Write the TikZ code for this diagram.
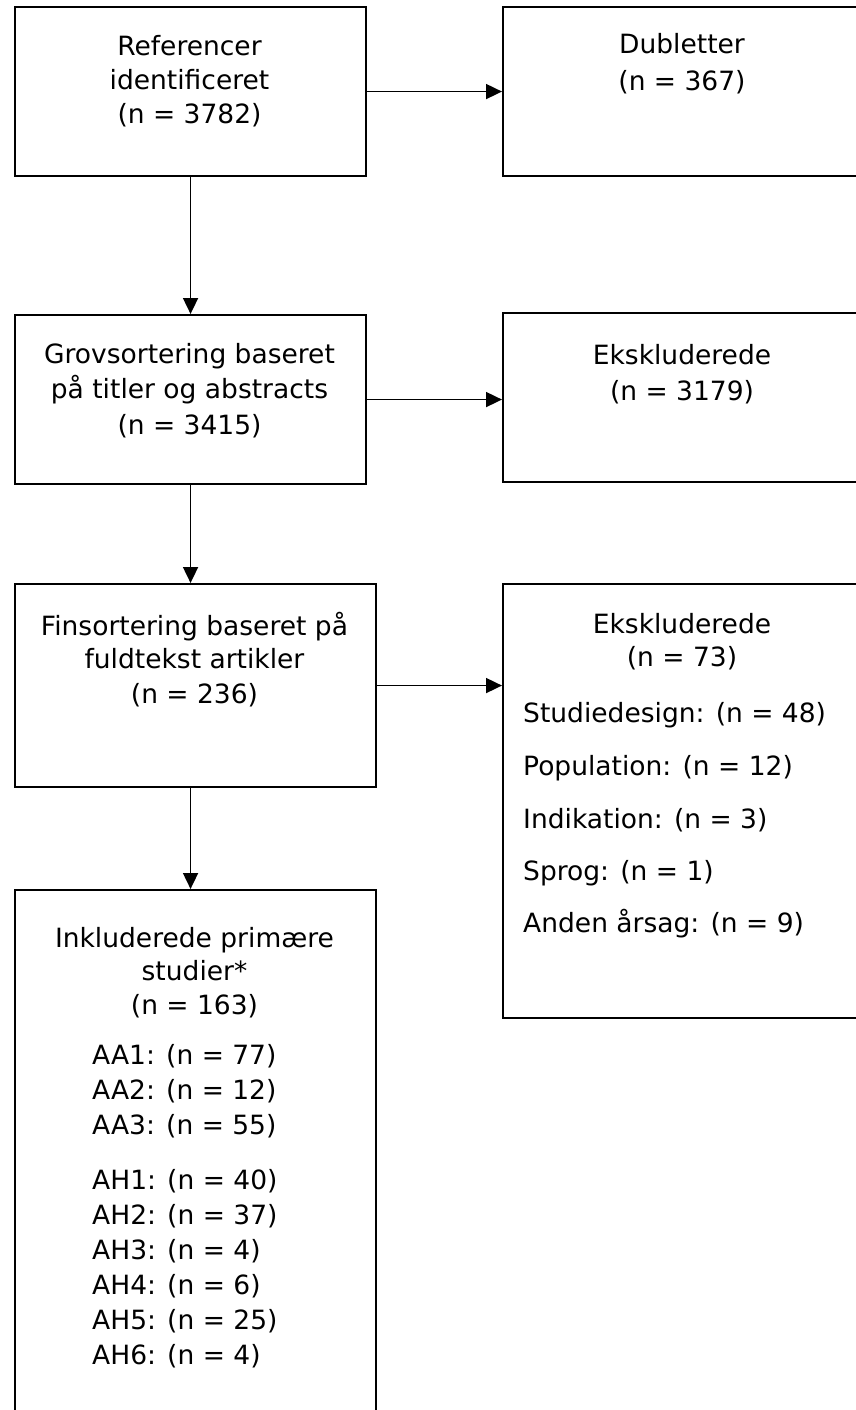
\documentclass[tikz,border=0pt]{standalone}
\usepackage{fontspec}
\setmainfont{DejaVu Sans}
\usetikzlibrary{arrows.meta}
\begin{document}
\begin{tikzpicture}[x=1pt,y=-1pt,
  box/.style={draw,line width=2.1pt,rectangle,inner sep=0pt,anchor=north west},
  lbl/.style={anchor=base,inner sep=0pt,font=\fontsize{26.5}{34}\selectfont},
  lft/.style={anchor=base west,inner sep=0pt,font=\fontsize{26.5}{34}\selectfont},
  arr/.style={line width=1.8pt,-{Triangle[length=16pt,width=15pt]}}]
\useasboundingbox (0,0) rectangle (856,1410);
\clip (0,0) rectangle (856,1410);
% boxes
\node[box,minimum width=351pt,minimum height=169pt] (b1) at (14,6) {};
\node[box,minimum width=360pt,minimum height=169pt] (b2) at (502,6) {};
\node[box,minimum width=351pt,minimum height=169pt] (b3) at (14,314) {};
\node[box,minimum width=360pt,minimum height=169pt] (b4) at (502,312) {};
\node[box,minimum width=361pt,minimum height=203pt] (b5) at (14,583) {};
\node[box,minimum width=360pt,minimum height=434pt] (b6) at (502,583) {};
\node[box,minimum width=361pt,minimum height=530pt] (b7) at (14,889) {};
% texts
\node[lbl] (t1a) at (189.5,56) {Referencer};
\node[lbl] (t1b) at (189.5,89.5) {identificeret};
\node[lbl] (t1c) at (189.5,124) {(n = 3782)};
\node[lbl] (t2a) at (682,54) {Dubletter};
\node[lbl] (t2b) at (682,91) {(n = 367)};
\node[lbl] (t3a) at (189.5,363) {Grovsortering baseret};
\node[lbl] (t3b) at (189.5,398) {på titler og abstracts};
\node[lbl] (t3c) at (189.5,434) {(n = 3415)};
\node[lbl] (t4a) at (682,364) {Ekskluderede};
\node[lbl] (t4b) at (682,400) {(n = 3179)};
\node[lbl] (t5a) at (194.5,635) {Finsortering baseret på};
\node[lbl] (t5b) at (194.5,668) {fuldtekst artikler};
\node[lbl] (t5c) at (194.5,703) {(n = 236)};
\node[lbl] (t6a) at (682,633) {Ekskluderede};
\node[lbl] (t6b) at (682,666) {(n = 73)};
\node[lft] (t6c) at (523,722) {Studiedesign: (n = 48)};
\node[lft] (t6d) at (523,775) {Population: (n = 12)};
\node[lft] (t6e) at (523,828) {Indikation: (n = 3)};
\node[lft] (t6f) at (523,880) {Sprog: (n = 1)};
\node[lft] (t6g) at (523,932) {Anden årsag: (n = 9)};
\node[lbl] (t7a) at (194.5,947) {Inkluderede primære};
\node[lbl] (t7b) at (194.5,980) {studier*};
\node[lbl] (t7c) at (194.5,1014) {(n = 163)};
\node[lft] (t7d) at (92,1064) {AA1: (n = 77)};
\node[lft] (t7e) at (92,1099) {AA2: (n = 12)};
\node[lft] (t7f) at (92,1134) {AA3: (n = 55)};
\node[lft] (t7g) at (92,1189) {AH1: (n = 40)};
\node[lft] (t7h) at (92,1224) {AH2: (n = 37)};
\node[lft] (t7i) at (92,1259) {AH3: (n = 4)};
\node[lft] (t7j) at (92,1294) {AH4: (n = 6)};
\node[lft] (t7k) at (92,1329) {AH5: (n = 25)};
\node[lft] (t7l) at (92,1364) {AH6: (n = 4)};
% connectors
\draw[arr] (b1.east) -- (b1.east -| b2.west);
\draw[arr] (b3.east) -- (b3.east -| b4.west);
\draw[arr] (b5.east) -- (b5.east -| b6.west);
\draw[arr] (b1.south) -- (b3.north);
\draw[arr] (b3.south) -- (b5.north -| b3.south);
\draw[arr] (b5.south -| b3.south) -- (b7.north -| b3.south);
\end{tikzpicture}
\end{document}
